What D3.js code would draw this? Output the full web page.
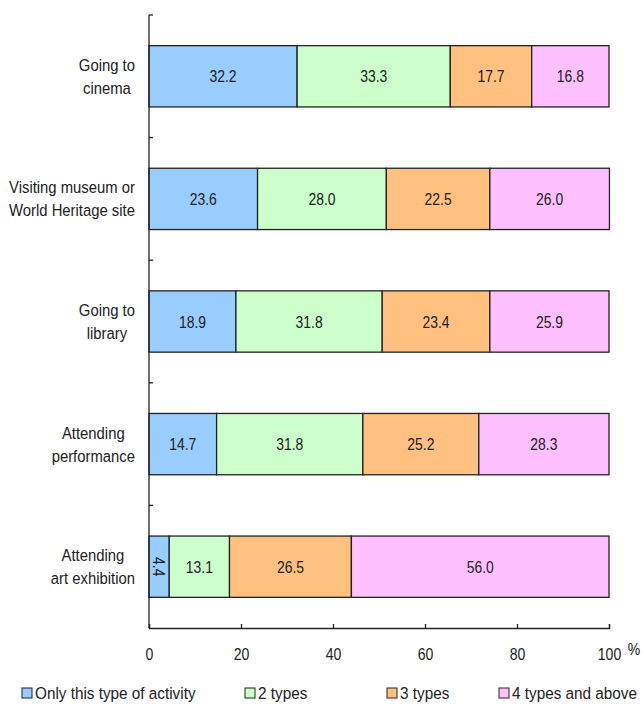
<!DOCTYPE html>
<html>
<head>
<meta charset="utf-8">
<script src="https://d3js.org/d3.v7.min.js"></script>
<style>
  body { margin: 0; background: #fff; }
  svg text { font-family: "Liberation Sans", Arial, sans-serif; fill: #222; }
</style>
</head>
<body>
<div id="chart"></div>
<script>
// categories (two-line labels)
var categories = [
  ["Going to", "cinema"],
  ["Visiting museum or", "World Heritage site"],
  ["Going to", "library"],
  ["Attending", "performance"],
  ["Attending", "art exhibition"]
]
var seriesNames = ["Only this type of activity", "2 types", "3 types", "4 types and above"]
var onlyThis = [32.2, 23.6, 18.9, 14.7, 4.4]
var twoTypes = [33.3, 28.0, 31.8, 31.8, 13.1]
var threeTypes = [17.7, 22.5, 23.4, 25.2, 26.5]
var fourPlus = [16.8, 26.0, 25.9, 28.3, 56.0]
var xTicks = [0, 20, 40, 60, 80, 100]
var colors = ["#99ccff", "#ccffcc", "#ffc080", "#ffc0ff"]

var series = [onlyThis, twoTypes, threeTypes, fourPlus]

var width = 644, height = 704
var margin = {top: 15, right: 35, bottom: 76, left: 149}

// no narrow font installed, so squeeze a regular one horizontally
var narrow = 0.86

var svg = d3.select("#chart").append("svg")
    .attr("width", width)
    .attr("height", height)

var x = d3.scaleLinear()
    .domain([0, 100])
    .range([margin.left, width - margin.right])

var y = d3.scaleBand()
    .domain(d3.range(categories.length))
    .range([margin.top, height - margin.bottom])
    .paddingInner(0.5)
    .paddingOuter(0.25)

// stacked data
var rows = categories.map((c, i) => {
  var row = {idx: i}
  series.forEach((s, j) => row["s" + j] = s[i])
  return row
})
var stack = d3.stack().keys(series.map((s, j) => "s" + j))(rows)

// bars
stack.forEach((layer, j) => {
  var g = svg.append("g")
  g.selectAll("rect")
    .data(layer)
    .enter()
    .append("rect")
    .attr("x", d => x(d[0]))
    .attr("y", d => y(d.data.idx))
    .attr("width", d => x(d[1]) - x(d[0]))
    .attr("height", y.bandwidth())
    .attr("fill", colors[j])
    .attr("stroke", "#222")
    .attr("stroke-width", 1.3)

  g.selectAll("text")
    .data(layer)
    .enter()
    .append("text")
    .attr("transform", d => {
      var cx = (x(d[0]) + x(d[1])) / 2
      var cy = y(d.data.idx) + y.bandwidth() / 2
      var w = d[1] - d[0]
      return "translate(" + cx + "," + cy + ")" + (w < 6 ? " rotate(90)" : "") + " scale(0.82,1)"
    })
    .attr("text-anchor", "middle")
    .attr("dy", "0.36em")
    .style("font-size", "17px")
    .text(d => (d[1] - d[0]).toFixed(1))
})

// left axis line with band separators
var step = y.step()
var sepY = d3.range(categories.length + 1).map(i => margin.top + i * step)
svg.append("line")
  .attr("x1", x(0)).attr("x2", x(0))
  .attr("y1", margin.top).attr("y2", height - margin.bottom)
  .attr("stroke", "#222").attr("stroke-width", 1.3)
svg.selectAll(".sep")
  .data(sepY.slice(0, -1))
  .enter()
  .append("line")
  .attr("x1", x(0)).attr("x2", x(0) + 4)
  .attr("y1", d => d).attr("y2", d => d)
  .attr("stroke", "#222").attr("stroke-width", 1.3)

// bottom axis
var xAxis = svg.append("g")
  .attr("transform", "translate(0," + (height - margin.bottom) + ")")
  .call(d3.axisBottom(x).tickValues(xTicks).tickSize(-4).tickPadding(21))
xAxis.select(".domain").attr("stroke", "#222").attr("stroke-width", 1.3)
xAxis.selectAll(".tick line").attr("stroke", "#222").attr("stroke-width", 1.3)
xAxis.selectAll(".tick text")
  .style("font-size", "16px")
  .style("font-family", "'Liberation Sans', Arial, sans-serif")
  .attr("transform", "scale(0.88,1)")
  .attr("fill", "#222")

svg.append("text")
  .attr("transform", "translate(" + (x(100) + 25) + "," + (height - margin.bottom + 27) + ") scale(0.88,1)")
  .attr("text-anchor", "middle")
  .style("font-size", "16px")
  .text("%")

// category labels: lines centered within a right-aligned block
var labelRight = 135
var labelScale = 0.9
categories.forEach((lines, i) => {
  var cy = y(i) + y.bandwidth() / 2
  var g = svg.append("g")
  var texts = lines.map((l, k) => g.append("text")
    .attr("text-anchor", "middle")
    .attr("dy", "0.36em")
    .style("font-size", "16.5px")
    .text(l))
  var maxW = d3.max(texts, t => t.node().getComputedTextLength()) * labelScale
  texts.forEach((t, k) => {
    var ty = cy + (k - (lines.length - 1) / 2) * 23
    t.attr("transform", "translate(" + (labelRight - maxW / 2) + "," + ty + ") scale(" + labelScale + ",1)")
  })
})

// legend
var legendX = [22, 245, 387, 499]
var legendY = 693
var lg = svg.append("g")
seriesNames.forEach((name, j) => {
  lg.append("rect")
    .attr("x", legendX[j]).attr("y", legendY - 5)
    .attr("width", 10).attr("height", 10)
    .attr("fill", colors[j])
    .attr("stroke", "#222").attr("stroke-width", 1)
  lg.append("text")
    .attr("transform", "translate(" + (legendX[j] + 13) + "," + legendY + ") scale(0.9,1)")
    .attr("dy", "0.36em")
    .style("font-size", "17px")
    .text(name)
})
</script>
</body>
</html>
